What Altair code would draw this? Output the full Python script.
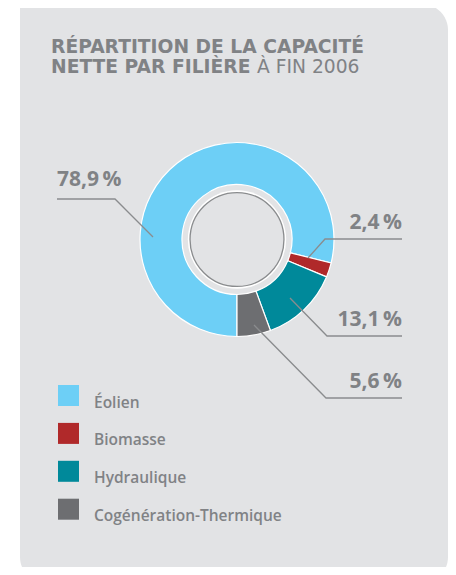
import math
import altair as alt
import pandas as pd

# ---------------- data ----------------
categories = ["Éolien", "Biomasse", "Hydraulique", "Cogénération-Thermique"]
shares = [78.9, 2.4, 13.1, 5.6]
colors = ["#6dcff6", "#b0292a", "#00899a", "#6d6e71"]
pct_labels = ["78,9\u2009%", "2,4\u2009%", "13,1\u2009%", "5,6\u2009%"]

title_line1 = "RÉPARTITION DE LA CAPACITÉ"
title_line2_bold = "NETTE PAR FILIÈRE"
title_line2_light = "À FIN 2006"

# ---------------- layout ----------------
W, H = 440, 559
BG = "#e2e3e5"
GREY = "#808285"
LINE = "#8a8c8e"
FONT = "Open Sans"
TFONT = "DejaVu Sans"
CX, CY = 229, 231.5

label_x = [49, 394, 394, 394]
label_y = [178, 221, 318, 380]
label_align = ["left", "right", "right", "right"]
# leader polylines: start (under label), elbow, anchor in slice
lead_x = [[49, 107, 145], [394, 317, 300], [394, 319, 282], [394, 318, 246]]
lead_y = [[191, 191, 229], [231, 231, 250], [328, 328, 290], [390, 390, 317]]

xs = alt.Scale(domain=[0, W], range=[0, W], nice=False, zero=False)
ys = alt.Scale(domain=[0, H], range=[0, H], nice=False, zero=False)

df = pd.DataFrame({"cat": categories, "value": shares, "idx": range(len(categories))})

panel_df = pd.DataFrame({"x": [12], "x2": [440], "y": [-4], "y2": [575]})
panel = alt.Chart(panel_df).mark_rect(
    color=BG, cornerRadiusTopRight=26, cornerRadiusBottomLeft=26, cornerRadiusBottomRight=26
).encode(
    x=alt.X("x:Q", scale=xs, axis=None), x2="x2:Q",
    y=alt.Y("y:Q", scale=ys, axis=None), y2="y2:Q",
)

donut = alt.Chart(df).mark_arc(innerRadius=55, outerRadius=97, stroke="white", strokeWidth=1.2).encode(
    theta=alt.Theta("value:Q", stack=True, scale=alt.Scale(range=[math.pi, 3 * math.pi])),
    color=alt.Color(
        "cat:N",
        scale=alt.Scale(domain=categories, range=colors),
        legend=alt.Legend(
            orient="none", legendX=50, legendY=377, title=None,
            symbolType="square", symbolSize=441, symbolStrokeWidth=0, symbolOpacity=1,
            labelFont=FONT, labelFontSize=15.5, labelFontWeight=600, labelColor=GREY,
            labelOffset=15, rowPadding=11.9, labelBaseline="top", padding=0, labelLimit=400,
        ),
    ),
    order=alt.Order("idx:Q"),
    x=alt.value(CX), y=alt.value(CY),
)

ring_white = alt.Chart(df.head(1)).mark_circle(
    size=math.pi * 55.5 ** 2, color="white", opacity=1
).encode(x=alt.value(CX), y=alt.value(CY))
ring_inner = alt.Chart(df.head(1)).mark_circle(
    size=math.pi * 53 ** 2, fill=BG, stroke=LINE, strokeWidth=1.3, opacity=1, fillOpacity=1
).encode(x=alt.value(CX), y=alt.value(CY))

lead_rows = []
for i, c in enumerate(categories):
    for s in range(3):
        lead_rows.append({"cat": c, "step": s, "x": lead_x[i][s], "y": lead_y[i][s]})
leaders = alt.Chart(pd.DataFrame(lead_rows)).mark_line(color=LINE, strokeWidth=1.3).encode(
    x=alt.X("x:Q", scale=xs, axis=None), y=alt.Y("y:Q", scale=ys, axis=None),
    detail="cat:N", order="step:Q",
)

lab_df = pd.DataFrame({"t": pct_labels, "x": label_x, "y": label_y, "a": label_align})
lab_left = alt.Chart(lab_df).transform_filter(alt.datum.a == "left").mark_text(
    font=FONT, fontSize=21, fontWeight="bold", color=GREY, align="left", baseline="alphabetic"
).encode(x=alt.X("x:Q", scale=xs, axis=None), y=alt.Y("y:Q", scale=ys, axis=None), text="t:N")
lab_right = alt.Chart(lab_df).transform_filter(alt.datum.a == "right").mark_text(
    font=FONT, fontSize=21, fontWeight="bold", color=GREY, align="right", baseline="alphabetic"
).encode(x=alt.X("x:Q", scale=xs, axis=None), y=alt.Y("y:Q", scale=ys, axis=None), text="t:N")

tb_df = pd.DataFrame({"t": [title_line1, title_line2_bold], "x": [43, 43], "y": [45.3, 65.3]})
title_bold = alt.Chart(tb_df).mark_text(
    font=TFONT, fontSize=18.7, fontWeight="bold", color=GREY, align="left", baseline="alphabetic"
).encode(x=alt.X("x:Q", scale=xs, axis=None), y=alt.Y("y:Q", scale=ys, axis=None), text="t:N")
tl_df = pd.DataFrame({"t": [title_line2_light], "x": [249], "y": [65.3]})
title_light = alt.Chart(tl_df).mark_text(
    font=TFONT, fontSize=18.7, fontWeight="normal", color=GREY, align="left", baseline="alphabetic"
).encode(x=alt.X("x:Q", scale=xs, axis=None), y=alt.Y("y:Q", scale=ys, axis=None), text="t:N")

chart = alt.layer(
    panel, donut, ring_white, ring_inner, leaders, lab_left, lab_right, title_bold, title_light
).properties(
    width=W, height=H, autosize=alt.AutoSizeParams(type="none"), padding=0, background="white"
).configure_view(stroke=None)

chart.save("out.html", embed_options={"renderer": "svg", "actions": False})
